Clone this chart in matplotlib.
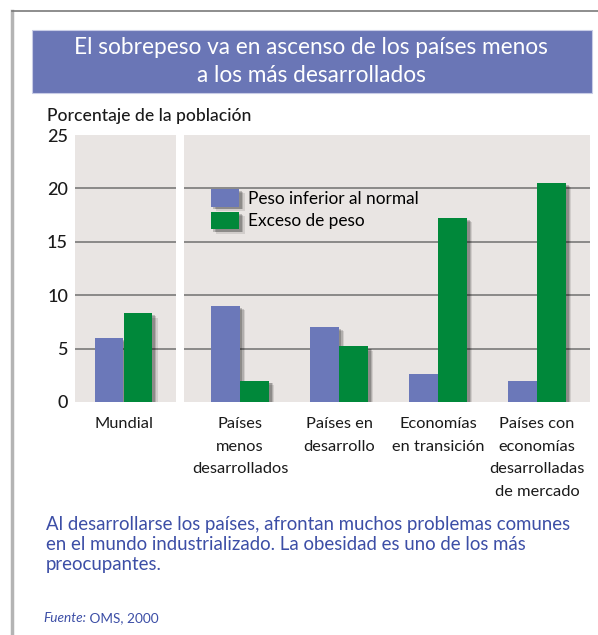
import matplotlib
matplotlib.use("Agg")
import matplotlib.pyplot as plt
import matplotlib.patheffects as pe
from matplotlib.patches import Rectangle
import numpy as np

# ---- data ----
title_lines = ["El sobrepeso va en ascenso de los países menos", "a los más desarrollados"]
ylabel = "Porcentaje de la población"
world_label = ["Mundial"]
world_under = [6.0]
world_over = [8.3]
categories = ["Países\nmenos\ndesarrollados", "Países en\ndesarrollo",
              "Economías\nen transición", "Países con\neconomías\ndesarrolladas\nde mercado"]
under = [9.0, 7.0, 2.6, 2.0]
over = [2.0, 5.2, 17.2, 20.5]
series_names = ["Peso inferior al normal", "Exceso de peso"]
yticks = [0, 5, 10, 15, 20, 25]
caption = ("Al desarrollarse los países, afrontan muchos problemas comunes\n"
           "en el mundo industrializado. La obesidad es uno de los más\n"
           "preocupantes.")
source_it = "Fuente:"
source_rest = " OMS, 2000"

FONT = "Lato"
plt.rcParams['font.family'] = [FONT, 'DejaVu Sans']

W, H = 598, 635
fig = plt.figure(figsize=(W / 100, H / 100), dpi=100)
fig.patch.set_facecolor("white")

def fx(px): return px / W
def fy(py): return 1 - py / H

BLUE = "#6b78b9"
GREEN = "#00883a"
PANEL = "#e9e5e3"
GRID = "#707070"
TXTBLUE = "#3c4ea6"
DARK = "#1a1a1a"

# outer frame
fig.add_artist(plt.Line2D([fx(12), fx(12)], [fy(11), 0], color="#b4b4b4", lw=2.5))
fig.add_artist(plt.Line2D([fx(12), 1], [fy(11), fy(11)], color="#7a7a7a", lw=1.2))

# title box
fig.add_artist(Rectangle((fx(32), fy(93)), fx(592) - fx(32), fy(30) - fy(93),
                         transform=fig.transFigure, facecolor="#6a76b6",
                         edgecolor="#c8cce6", lw=0.8))
fig.text(fx(311), fy(48), title_lines[0], color="white", fontsize=16.3,
         ha="center", va="center")
fig.text(fx(311), fy(76), title_lines[1], color="white", fontsize=16.3,
         ha="center", va="center")

fig.text(fx(47), fy(116), ylabel, fontsize=12.6, color=DARK, ha="left", va="center",
         fontweight="medium")

bottom_px, top_px = 402, 135
ax1 = fig.add_axes([fx(75), fy(bottom_px), fx(176) - fx(75), (bottom_px - top_px) / H])
ax2 = fig.add_axes([fx(184), fy(bottom_px), fx(590) - fx(184), (bottom_px - top_px) / H])

ppu = 99.0  # pixels per category unit
bw = 0.287
off = 0.147
shadow = [pe.SimplePatchShadow(offset=(4, -3), shadow_rgbFace="k", alpha=0.10),
          pe.SimplePatchShadow(offset=(3, -2), shadow_rgbFace="k", alpha=0.15),
          pe.SimplePatchShadow(offset=(2, -1.5), shadow_rgbFace="k", alpha=0.2),
          pe.Normal()]

def style(ax, c0_px, width_px):
    left = -c0_px / ppu
    ax.set_xlim(left, left + width_px / ppu)
    ax.set_ylim(0, 25)
    ax.set_facecolor(PANEL)
    for s in ax.spines.values():
        s.set_visible(False)
    for y in yticks[1:-1]:
        ax.axhline(y, color=GRID, lw=1.1, zorder=1)
    ax.tick_params(axis="both", length=0)

style(ax1, 123.5 - 75, 101)
style(ax2, 240 - 184, 406)

x1 = np.arange(len(world_label))
b = ax1.bar(x1 - off, world_under, bw, color=BLUE, zorder=3)
g = ax1.bar(x1 + off, world_over, bw, color=GREEN, zorder=3)
for p in list(b) + list(g):
    p.set_path_effects(shadow)

x2 = np.arange(len(categories))
b2 = ax2.bar(x2 - off, under, bw, color=BLUE, zorder=3, label=series_names[0])
g2 = ax2.bar(x2 + off, over, bw, color=GREEN, zorder=3, label=series_names[1])
for p in list(b2) + list(g2):
    p.set_path_effects(shadow)

ax1.set_yticks(yticks)
ax1.set_yticklabels([str(t) for t in yticks], fontsize=13, color=DARK, fontweight="medium")
ax1.tick_params(axis="y", pad=5)
ax2.set_yticks(yticks)
ax2.set_yticklabels([])

for ax, xs, labs in [(ax1, x1, world_label), (ax2, x2, categories)]:
    ax.set_xticks(xs)
    ax.set_xticklabels(labs, fontsize=11.8, color=DARK, linespacing=1.78)
    ax.tick_params(axis="x", pad=11)

fs_leg = 12.4
leg = ax2.legend(loc="upper left", bbox_to_anchor=((210.7 - 184) / 406, (402 - 189) / 267),
                 frameon=False, fontsize=fs_leg, handlelength=1.65, handleheight=1.2,
                 labelspacing=0.3, handletextpad=0.5, borderpad=0, borderaxespad=0)
for p in leg.get_patches():
    p.set_path_effects(shadow)

fig.text(fx(46), fy(516), caption, fontsize=13.4, color=TXTBLUE, ha="left", va="top",
         linespacing=1.2)

t1 = fig.text(fx(43), fy(618), source_it, fontsize=9.8, color=TXTBLUE, style="italic",
              ha="left", va="center")
fig.canvas.draw()
bb = t1.get_window_extent(renderer=fig.canvas.get_renderer())
fig.text(bb.x1 / W, fy(618), source_rest, fontsize=9.8, color=TXTBLUE, ha="left", va="center")

fig.savefig("out.png", dpi=100)
